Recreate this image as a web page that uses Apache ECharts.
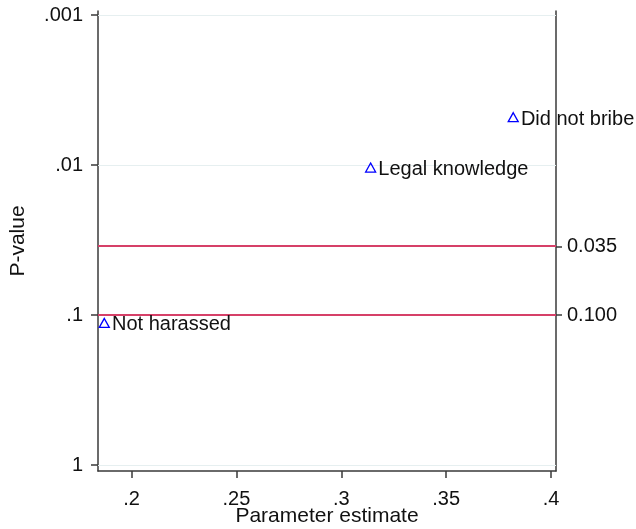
<!DOCTYPE html>
<html>
<head>
<meta charset="utf-8">
<script src="https://cdn.jsdelivr.net/npm/echarts@6/dist/echarts.min.js"></script>
<style>
  html, body { margin: 0; padding: 0; background: #ffffff; }
  #chart { width: 636px; height: 529px; }
</style>
</head>
<body>
<div id="chart"></div>
<script>
// Outcome names, their parameter estimates and p-values
const categories = ['Not harassed', 'Legal knowledge', 'Did not bribe'];
const estimates = [0.187, 0.314, 0.382];
const pValues = [0.113, 0.0104, 0.0048];

// Axis ticks
const xTickValues = [0.2, 0.25, 0.3, 0.35, 0.4];
const xTickLabels = ['.2', '.25', '.3', '.35', '.4'];
const yTickValues = [0.001, 0.01, 0.1, 1];
const yTickLabels = ['.001', '.01', '.1', '1'];

// Significance thresholds shown on the right axis
const thresholds = [0.035, 0.1];
const thresholdLabels = ['0.035', '0.100'];

const FONT = "'Liberation Sans', Arial, sans-serif";
const TEXT = '#111111';
const AXIS = '#3a3a3a';
const log = v => Math.log10(v);

function labelFor(values, labels, v, tx) {
  for (let i = 0; i < values.length; i++) {
    if (Math.abs(tx(values[i]) - v) < 1e-6) return labels[i];
  }
  return '';
}

const yMin = -3.027, yMax = 0.04;

const chart = echarts.init(document.getElementById('chart'), null, { renderer: 'canvas' });

chart.setOption({
  animation: false,
  backgroundColor: '#ffffff',
  grid: { left: 98, right: 80, top: 11, bottom: 58, containLabel: false, outerBoundsMode: 'none' },
  xAxis: {
    type: 'value',
    min: 0.184,
    max: 0.4024,
    name: 'Parameter estimate',
    nameLocation: 'middle',
    nameGap: 35,
    nameMoveOverlap: false,
    nameTextStyle: { fontFamily: FONT, fontSize: 21, color: TEXT },
    axisLine: { show: true, onZero: false, lineStyle: { color: AXIS, width: 1.5 } },
    axisTick: { show: true, length: 7, customValues: xTickValues, lineStyle: { color: AXIS, width: 1.5 } },
    axisLabel: {
      customValues: xTickValues,
      margin: 18,
      fontFamily: FONT, fontSize: 20, color: TEXT,
      formatter: v => labelFor(xTickValues, xTickLabels, v, x => x)
    },
    splitLine: { show: false }
  },
  yAxis: [
    {
      type: 'value',
      inverse: true,
      min: yMin,
      max: yMax,
      position: 'left',
      name: 'P-value',
      nameLocation: 'middle',
      nameGap: 69,
      nameMoveOverlap: false,
      nameTextStyle: { fontFamily: FONT, fontSize: 21, color: TEXT },
      axisLine: { show: true, onZero: false, lineStyle: { color: AXIS, width: 1.5 } },
      axisTick: { show: true, length: 7, customValues: yTickValues.map(log), lineStyle: { color: AXIS, width: 1.5 } },
      axisLabel: {
        customValues: yTickValues.map(log),
        margin: 15,
        fontFamily: FONT, fontSize: 20, color: TEXT,
        formatter: v => labelFor(yTickValues, yTickLabels, v, log)
      },
      splitLine: { show: false }
    },
    {
      type: 'value',
      inverse: true,
      min: yMin,
      max: yMax,
      position: 'right',
      axisLine: { show: true, onZero: false, lineStyle: { color: AXIS, width: 1.5 } },
      axisTick: { show: true, length: 6, customValues: thresholds.map(log), lineStyle: { color: AXIS, width: 1.5 } },
      axisLabel: {
        customValues: thresholds.map(log),
        margin: 11,
        fontFamily: FONT, fontSize: 20, color: TEXT,
        formatter: v => labelFor(thresholds, thresholdLabels, v, log)
      },
      splitLine: { show: false }
    }
  ],
  series: [
    {
      // light horizontal grid at each decade
      type: 'line',
      data: [],
      silent: true,
      z: 1,
      markLine: {
        silent: true,
        symbol: 'none',
        animation: false,
        label: { show: false },
        lineStyle: { color: '#e6eff0', width: 1.2, type: 'solid' },
        data: yTickValues.map(v => ({ yAxis: log(v) }))
      }
    },
    {
      // threshold lines
      type: 'line',
      data: [],
      silent: true,
      z: 2,
      markLine: {
        silent: true,
        symbol: 'none',
        animation: false,
        label: { show: false },
        lineStyle: { color: '#d64068', width: 1.8, type: 'solid' },
        data: thresholds.map(v => ({ yAxis: log(v) }))
      }
    },
    {
      type: 'scatter',
      z: 5,
      symbol: 'triangle',
      symbolSize: [10, 9],
      itemStyle: { color: 'rgba(255,255,255,0)', borderColor: '#0000ff', borderWidth: 1.3, opacity: 1 },
      label: {
        show: true,
        position: 'right',
        distance: 2,
        offset: [0, 2],
        fontFamily: FONT, fontSize: 20, color: TEXT, opacity: 1,
        formatter: p => categories[p.dataIndex]
      },
      emphasis: { disabled: true },
      data: estimates.map((e, i) => [e, log(pValues[i])])
    }
  ]
});
</script>
</body>
</html>
